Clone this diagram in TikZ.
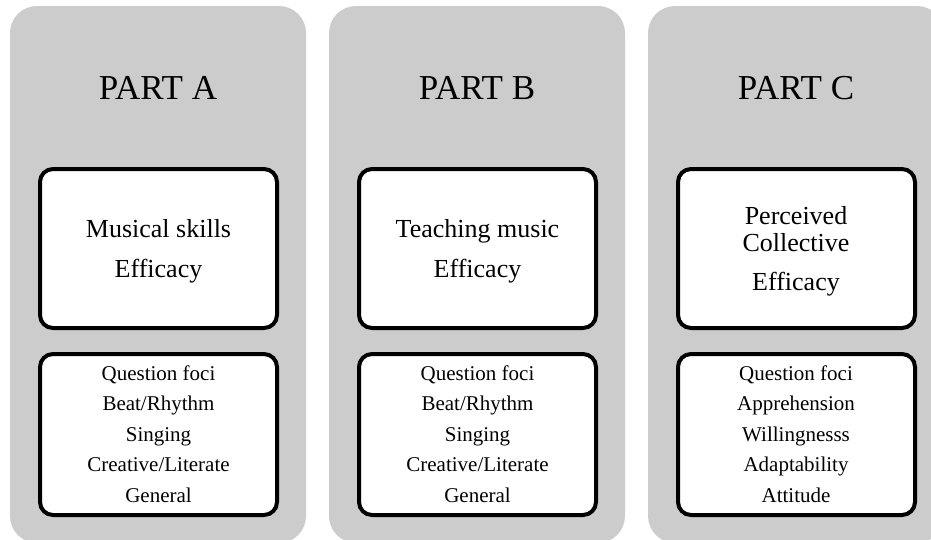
\documentclass[tikz,border=0pt]{standalone}
\usepackage{fontspec}
\setmainfont{Liberation Serif}
\definecolor{panelgray}{RGB}{204,204,204}
\begin{document}
\begin{tikzpicture}[x=1pt,y=-1pt,
  panel/.style={fill=panelgray,draw=none,rounded corners=27pt},
  innerbox/.style={fill=white,draw=black,line width=4pt,rounded corners=13pt},
  titletext/.style={anchor=base,inner sep=0pt,font=\fontsize{35}{40}\selectfont},
  headtext/.style={anchor=base,inner sep=0pt,font=\fontsize{26}{30}\selectfont},
  listtext/.style={anchor=base,inner sep=0pt,font=\fontsize{21}{25}\selectfont}]
\useasboundingbox (0,0) rectangle (931,539);
\begin{scope}
\clip (0,0) rectangle (931,539);
% panels
\path[panel] (10,6) rectangle (306,543);
\path[panel] (329,6) rectangle (625,543);
\path[panel] (648,6) rectangle (944,543);
\node[inner sep=0pt] (pA) at (158,270) {};
\node[inner sep=0pt] (pB) at (477,270) {};
\node[inner sep=0pt] (pC) at (796,270) {};
% inner boxes
\foreach \x/\n in {0/A,319/B,638/C}{
  \draw[innerbox] (40+\x,169) rectangle (277+\x,328);
  \draw[innerbox] (40+\x,354) rectangle (277+\x,515);
}
\end{scope}
% titles
\node[titletext] (tA) at (158,99) {PART A};
\node[titletext] (tB) at (477,99) {PART B};
\node[titletext] (tC) at (796,99) {PART C};
% head texts
\node[headtext] (hA1) at (158.5,237) {Musical skills};
\node[headtext] (hA2) at (158.5,277) {Efficacy};
\node[headtext] (hB1) at (477.5,237) {Teaching music};
\node[headtext] (hB2) at (477.5,277) {Efficacy};
\node[headtext] (hC1) at (796,224) {Perceived};
\node[headtext] (hC2) at (796,251) {Collective};
\node[headtext] (hC3) at (796,290) {Efficacy};
% lists
\node[listtext] (lA1) at (158.5,380) {Question foci};
\node[listtext] (lA2) at (158.5,410.5) {Beat/Rhythm};
\node[listtext] (lA3) at (158.5,441) {Singing};
\node[listtext] (lA4) at (158.5,471.5) {Creative/Literate};
\node[listtext] (lA5) at (158.5,502) {General};
\node[listtext] (lB1) at (477.5,380) {Question foci};
\node[listtext] (lB2) at (477.5,410.5) {Beat/Rhythm};
\node[listtext] (lB3) at (477.5,441) {Singing};
\node[listtext] (lB4) at (477.5,471.5) {Creative/Literate};
\node[listtext] (lB5) at (477.5,502) {General};
\node[listtext] (lC1) at (796,380) {Question foci};
\node[listtext] (lC2) at (796,410.5) {Apprehension};
\node[listtext] (lC3) at (796,441) {Willingnesss};
\node[listtext] (lC4) at (796,471.5) {Adaptability};
\node[listtext] (lC5) at (796,502) {Attitude};
\end{tikzpicture}
\end{document}
